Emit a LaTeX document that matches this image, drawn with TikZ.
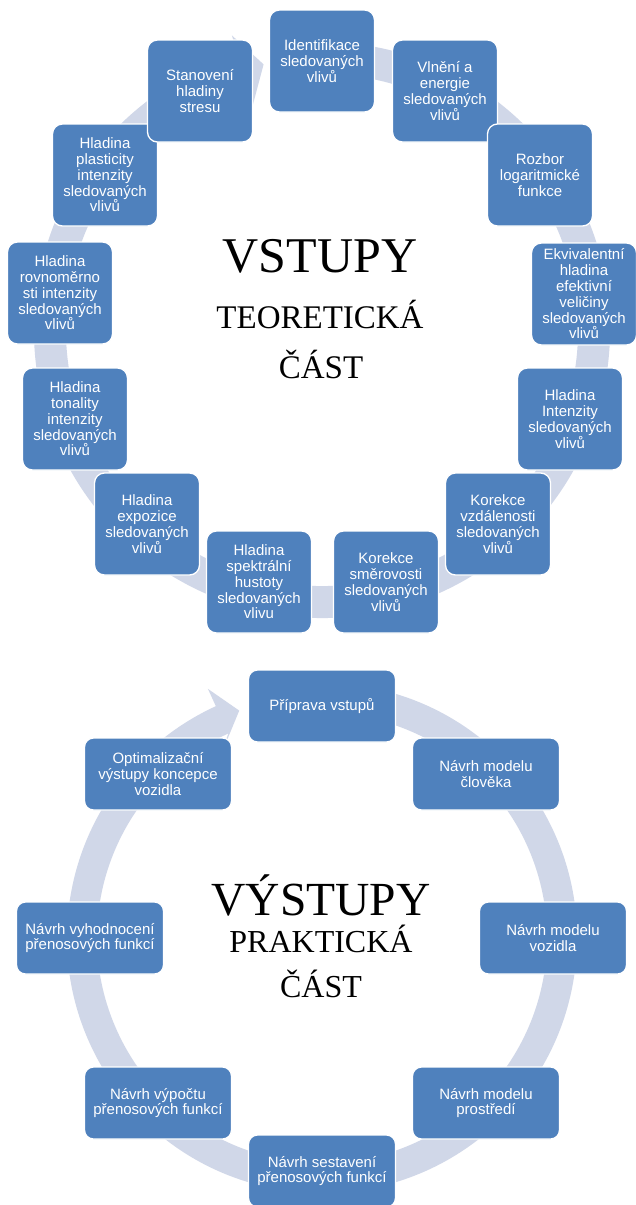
\documentclass[tikz,border=0pt]{standalone}
\usepackage{fontspec}
\setmainfont{Liberation Serif}
\newfontfamily\arialf{Liberation Sans}
\definecolor{boxblue}{RGB}{79,129,189}
\definecolor{ringc}{RGB}{208,215,232}
\begin{document}
\begin{tikzpicture}[x=1pt,y=1pt,
  boxbase/.style={fill=boxblue,draw=white,line width=1.3pt,text=white,align=center,inner sep=0pt,
    font=\arialf\fontsize{15}{15.8}\selectfont},
  topbox/.style={boxbase,rounded corners=10pt,minimum width=105,minimum height=102},
  botbox/.style={boxbase,rounded corners=9pt,minimum width=147,minimum height=72},
  bigtitle/.style={font=\fontsize{50}{50}\selectfont,anchor=base,inner sep=0pt},
  subtitle/.style={font=\fontsize{33}{33}\selectfont,anchor=base,inner sep=0pt}]
\useasboundingbox (0,0) rectangle (635,-1205);
\fill[white] (0,0) rectangle (635,-1205);

% ---------- top ring ----------
\fill[ringc] ([shift={(322,-330)}]80:288) arc[start angle=80,end angle=-253,radius=288]
  -- ([shift={(322,-330)}]-253:308) -- ([shift={(322,-330)}]-257.6:272)
  -- ([shift={(322,-330)}]-253:236) -- ([shift={(322,-330)}]-253:256)
  arc[start angle=-253,end angle=80,radius=256] -- cycle;

% ---------- bottom ring ----------
\fill[ringc] ([shift={(322,-938)}]80:255) arc[start angle=80,end angle=-245.4,radius=255]
  -- ([shift={(322,-938)}]-245.4:274) -- ([shift={(322,-938)}]-250:242)
  -- ([shift={(322,-938)}]-240:206) -- ([shift={(322,-938)}]-245.4:225)
  arc[start angle=-245.4,end angle=80,radius=225] -- cycle;

% ---------- top boxes ----------
\node[topbox] (t1) at (322,-61) {Identifikace\\sledovaných\\vlivů};
\node[topbox] (t2) at (445,-91) {Vlnění a\\energie\\sledovaných\\vlivů};
\node[topbox] (t3) at (540,-175) {Rozbor\\logaritmické\\funkce};
\node[topbox] (t4) at (584,-294) {Ekvivalentní\\hladina\\efektivní\\veličiny\\sledovaných\\vlivů};
\node[topbox] (t5) at (570,-419) {Hladina\\Intenzity\\sledovaných\\vlivů};
\node[topbox] (t6) at (498,-524) {Korekce\\vzdálenosti\\sledovaných\\vlivů};
\node[topbox] (t7) at (386,-582) {Korekce\\směrovosti\\sledovaných\\vlivů};
\node[topbox] (t8) at (259,-582) {Hladina\\spektrální\\hustoty\\sledovaných\\vlivu};
\node[topbox] (t9) at (147,-524) {Hladina\\expozice\\sledovaných\\vlivů};
\node[topbox] (t10) at (75,-419) {Hladina\\tonality\\intenzity\\sledovaných\\vlivů};
\node[topbox] (t11) at (60,-293) {Hladina\\rovnoměrno\\sti intenzity\\sledovaných\\vlivů};
\node[topbox] (t12) at (105,-175) {Hladina\\plasticity\\intenzity\\sledovaných\\vlivů};
\node[topbox] (t13) at (200,-91) {Stanovení\\hladiny\\stresu};

% ---------- bottom boxes ----------
\node[botbox] (b1) at (322,-706) {Příprava vstupů};
\node[botbox] (b2) at (486,-774) {Návrh modelu\\člověka};
\node[botbox] (b3) at (553,-938) {Návrh modelu\\vozidla};
\node[botbox] (b4) at (486,-1103) {Návrh modelu\\prostředí};
\node[botbox] (b5) at (322,-1171) {Návrh sestavení\\přenosových funkcí};
\node[botbox] (b6) at (158,-1103) {Návrh výpočtu\\přenosových funkcí};
\node[botbox] (b7) at (90,-938) {Návrh vyhodnocení\\přenosových funkcí};
\node[botbox] (b8) at (158,-774) {Optimalizační\\výstupy koncepce\\vozidla};

% ---------- titles ----------
\node[bigtitle] (tt1) at (320,-272) {VSTUPY};
\node[subtitle] (tt2) at (320,-328) {TEORETICKÁ};
\node[subtitle] (tt3) at (321,-378) {ČÁST};
\node[bigtitle,font=\fontsize{47.5}{47.5}\selectfont] (bt1) at (321,-915) {VÝSTUPY};
\node[subtitle,font=\fontsize{32}{32}\selectfont] (bt2) at (321,-952) {PRAKTICKÁ};
\node[subtitle,font=\fontsize{32}{32}\selectfont] (bt3) at (321,-997) {ČÁST};
\end{tikzpicture}
\end{document}
